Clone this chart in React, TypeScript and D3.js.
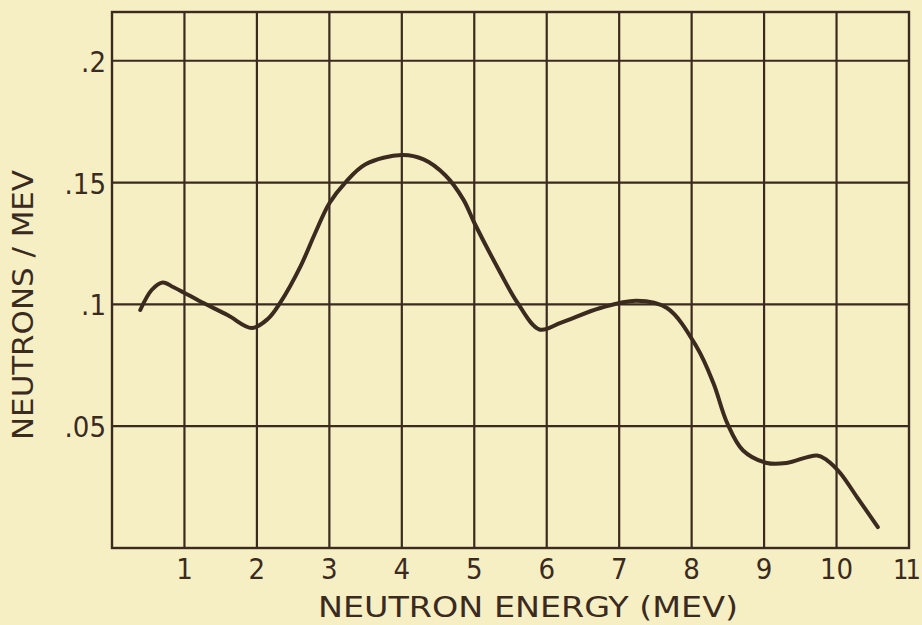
import React from "react";
import * as d3 from "d3";

// curve (energy in MeV, neutrons / MeV)
const energy = [0.39, 0.55, 0.7, 0.85, 1.0, 1.2, 1.6, 1.93, 2.15, 2.32, 2.6, 2.8, 3.0, 3.22, 3.5, 4.0, 4.3, 4.6, 4.85, 5.0, 5.36, 5.6, 5.9, 6.2, 6.74, 7.24, 7.66, 8.07, 8.3, 8.49, 8.71, 9.04, 9.31, 9.73, 9.87, 10.05, 10.28, 10.57];
const neutrons = [0.0977, 0.106, 0.109, 0.107, 0.1047, 0.1015, 0.0955, 0.0903, 0.094, 0.1006, 0.1155, 0.129, 0.1415, 0.15, 0.1575, 0.1613, 0.1595, 0.153, 0.143, 0.1335, 0.113, 0.1005, 0.0897, 0.0925, 0.0985, 0.1015, 0.0985, 0.0825, 0.0677, 0.0513, 0.04, 0.0349, 0.0349, 0.038, 0.036, 0.0308, 0.021, 0.0086];

const xTicks = [1, 2, 3, 4, 5, 6, 7, 8, 9, 10, 11];
const yTicks = [0.05, 0.1, 0.15, 0.2];
const yTickLabels = [".05", ".1", ".15", ".2"];

const W = 922, H = 625;
const ink = "#3b2a1e";
const paper = "#f6efc4";
const font = "'DejaVu Sans Condensed', 'DejaVu Sans', sans-serif";

export default function App() {
  const x = d3.scaleLinear().domain([0, 11]).range([112, 909]);
  const y = d3.scaleLinear().domain([0, 0.22]).range([548, 12]);

  const line = d3.line<number>()
    .x((d, i) => x(energy[i]))
    .y(d => y(d))
    .curve(d3.curveCatmullRom.alpha(0.5));

  return (
    <svg width={W} height={H} style={{ position: "absolute", left: 0, top: 0, background: paper }}>
      <rect x={0} y={0} width={W} height={H} fill={paper} />

      {/* grid */}
      {xTicks.slice(0, -1).map(t => (
        <line key={"gx" + t} x1={x(t)} x2={x(t)} y1={y(0.22)} y2={y(0)} stroke={ink} strokeWidth={2.2} />
      ))}
      {yTicks.map(t => (
        <line key={"gy" + t} x1={x(0)} x2={x(11)} y1={y(t)} y2={y(t)} stroke={ink} strokeWidth={2.2} />
      ))}
      <rect x={x(0)} y={y(0.22)} width={x(11) - x(0)} height={y(0) - y(0.22)} fill="none" stroke={ink} strokeWidth={2.4} />

      {/* curve */}
      <path d={line(neutrons) || ""} fill="none" stroke={ink} strokeWidth={4} strokeLinecap="round" strokeLinejoin="round" />

      {/* x tick labels */}
      {xTicks.map(t => (
        <text key={"tx" + t} x={t === 11 ? 918 : x(t)} y={579} textAnchor={t === 11 ? "end" : "middle"}
          fontFamily={font} fontSize={t === 11 ? 27 : 29} fill={ink}
          letterSpacing={t === 11 ? -3 : 0}
          style={{ fontStretch: "condensed" }}>
          {t}
        </text>
      ))}

      {/* y tick labels */}
      {yTicks.map((t, i) => (
        <text key={"ty" + t} x={106} y={y(t) + 11} textAnchor="end" fontFamily={font} fontSize={29} fill={ink}
          style={{ fontStretch: "condensed" }}>
          {yTickLabels[i]}
        </text>
      ))}

      {/* axis titles */}
      <text x={528} y={617} textAnchor="middle" fontFamily={font} fontSize={29} fill={ink}
        textLength={420} lengthAdjust="spacingAndGlyphs" style={{ fontStretch: "condensed" }}>
        NEUTRON ENERGY (MEV)
      </text>
      <text transform={`translate(33, 305) rotate(-90)`} textAnchor="middle" fontFamily={font} fontSize={29} fill={ink}
        textLength={270} lengthAdjust="spacingAndGlyphs" style={{ fontStretch: "condensed" }}>
        NEUTRONS / MEV
      </text>
    </svg>
  );
}
